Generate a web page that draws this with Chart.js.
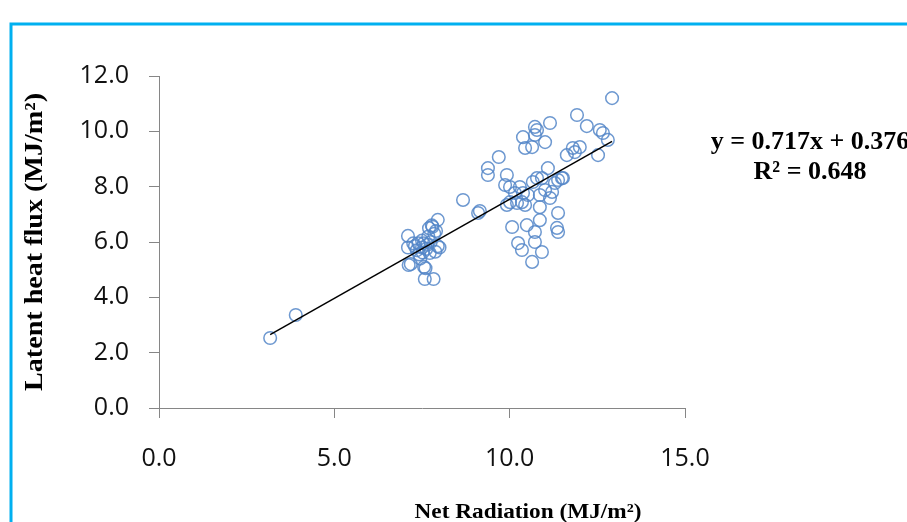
<!DOCTYPE html>
<html>
<head>
<meta charset="utf-8">
<script src="https://cdn.jsdelivr.net/npm/chart.js@4.4.1/dist/chart.umd.min.js"></script>
<style>
  body { margin: 0; background: #fff; }
  canvas { display: block; }
</style>
</head>
<body>
<canvas id="myChart" width="907" height="522"></canvas>
<script>
// net radiation (MJ/m2) vs latent heat flux (MJ/m2)
const netRad = [
  3.17, 3.90,
  7.10, 7.10, 7.12, 7.18, 7.25, 7.30, 7.35, 7.40, 7.42, 7.45, 7.50, 7.52, 7.55, 7.56,
  7.58, 7.60, 7.62, 7.65, 7.70, 7.72, 7.75, 7.78, 7.80, 7.83, 7.85, 7.88, 7.90, 7.95,
  8.00, 7.95, 7.50, 7.68,
  8.67, 9.10, 9.15, 9.38, 9.38, 9.69,
  9.92, 9.87, 10.01, 10.15, 10.29, 10.38, 10.52, 10.35, 10.21, 10.01, 9.92, 10.44,
  10.66, 10.78, 10.92, 11.09, 11.01, 11.21, 11.29, 11.38, 11.15, 10.86, 10.86, 11.38,
  11.35, 11.38, 10.07, 10.49, 10.86, 10.72, 10.24, 10.35, 10.72, 10.92, 10.64, 11.52,
  10.38, 10.44, 10.64, 10.72, 10.78, 10.72, 11.01, 11.15,
  12.92, 11.92, 12.20, 12.57, 12.66, 12.80, 12.52, 11.63, 11.80, 11.86, 12.00, 11.49
];
const latentHeat = [
  2.53, 3.36,
  6.22, 5.80, 5.17, 5.20, 5.95, 5.85, 5.70, 5.95, 5.55, 5.40, 5.80, 5.62, 5.95, 5.10,
  4.66, 5.05, 5.75, 5.90, 6.50, 5.60, 6.00, 6.60, 6.55, 4.66, 6.30, 5.65, 6.40, 5.85,
  5.80, 6.80, 6.05, 6.20,
  7.52, 7.05, 7.12, 8.67, 8.42, 9.07,
  8.42, 8.06, 7.99, 7.77, 7.99, 7.77, 7.70, 7.44, 7.41, 7.44, 7.34, 7.34,
  8.17, 8.31, 8.31, 8.67, 7.88, 7.81, 8.13, 8.24, 7.59, 7.70, 7.26, 7.05,
  6.51, 6.36, 6.54, 6.61, 6.79, 6.36, 5.96, 5.71, 6.00, 5.64, 5.28, 8.31,
  9.79, 9.40, 9.43, 10.16, 10.05, 9.87, 9.61, 10.30,
  11.20, 10.59, 10.19, 10.05, 9.94, 9.69, 9.14, 9.14, 9.40, 9.25, 9.43, 8.31
];
// linear trendline end points (y = 0.717x + 0.376)
const trendX = [3.17, 12.92];
const trendY = [2.65, 9.64];

const xTicks = [0, 5, 10, 15];
const yTicks = [0, 2, 4, 6, 8, 10, 12];

const axisGray = '#868686';

const extras = {
  id: 'extras',
  afterDraw(chart) {
    const c = chart.ctx;
    c.save();
    // blue frame
    c.strokeStyle = '#00B0F0';
    c.lineWidth = 3;
    c.beginPath();
    c.moveTo(11, 530);
    c.lineTo(11, 24);
    c.lineTo(920, 24);
    c.stroke();

    c.fillStyle = '#000';
    c.textAlign = 'center';
    c.textBaseline = 'alphabetic';

    // equation
    c.font = 'bold 26px "Liberation Serif", serif';
    c.fillText('y = 0.717x + 0.376', 810, 149);
    c.fillText('R\u00b2 = 0.648', 810, 179);

    // x title
    c.font = 'bold 22px "Liberation Serif", serif';
    let w = c.measureText('Net Radiation (MJ/m\u00b2)').width;
    c.save();
    c.translate(528, 518);
    c.scale(227 / w, 1);
    c.fillText('Net Radiation (MJ/m\u00b2)', 0, 0);
    c.restore();

    // y title
    c.font = 'bold 25px "Liberation Serif", serif';
    w = c.measureText('Latent heat flux (MJ/m\u00b2)').width;
    c.save();
    c.translate(42, 242);
    c.rotate(-Math.PI / 2);
    c.scale(298 / w, 1);
    c.fillText('Latent heat flux (MJ/m\u00b2)', 0, 0);
    c.restore();
    c.restore();
  }
};

const points = netRad.map((x, i) => ({ x: x, y: latentHeat[i] }));
const trend = trendX.map((x, i) => ({ x: x, y: trendY[i] }));

new Chart(document.getElementById('myChart').getContext('2d'), {
  type: 'scatter',
  data: {
    datasets: [
      {
        data: points,
        pointStyle: 'circle',
        pointRadius: 6.3,
        pointBorderWidth: 1.5,
        pointBorderColor: 'rgba(84,134,200,0.85)',
        pointBackgroundColor: 'rgba(0,0,0,0)',
        order: 2
      },
      {
        type: 'line',
        data: trend,
        borderColor: '#000',
        borderWidth: 1.5,
        pointRadius: 0,
        fill: false,
        order: 1
      }
    ]
  },
  options: {
    responsive: false,
    animation: false,
    layout: { padding: { top: 76, right: 222, left: 0, bottom: 0 } },
    plugins: { legend: { display: false }, tooltip: { enabled: false } },
    scales: {
      x: {
        type: 'linear',
        min: 0, max: 15,
        afterFit: s => { s.height = 114; },
        afterBuildTicks: s => { s.ticks = xTicks.map(v => ({ value: v })); },
        grid: { drawOnChartArea: false, drawTicks: true, tickLength: 10, color: axisGray },
        border: { color: axisGray, width: 1 },
        ticks: {
          padding: 26,
          color: '#111',
          font: { family: 'Open Sans', size: 25 },
          callback: v => v.toFixed(1)
        }
      },
      y: {
        type: 'linear',
        min: 0, max: 12,
        afterFit: s => { s.width = 159; },
        afterBuildTicks: s => { s.ticks = yTicks.map(v => ({ value: v })); },
        grid: { drawOnChartArea: false, drawTicks: true, tickLength: 10, color: axisGray },
        border: { color: axisGray, width: 1 },
        ticks: {
          padding: 20,
          color: '#111',
          font: { family: 'Open Sans', size: 25 },
          callback: v => v.toFixed(1)
        }
      }
    }
  },
  plugins: [extras]
});
</script>
</body>
</html>
